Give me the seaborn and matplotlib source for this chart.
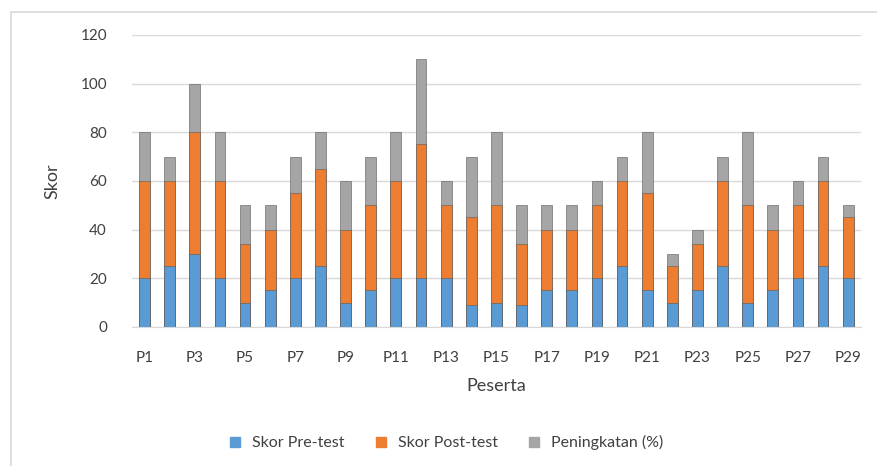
import numpy as np
import pandas as pd
import matplotlib.pyplot as plt
import seaborn as sns
from matplotlib.patches import Rectangle
from matplotlib.lines import Line2D

# ==========================================================
# DATA
# ==========================================================

peserta = ["P%d" % i for i in range(1, 30)]

skor_pre = [20, 25, 30, 20, 10, 15, 20, 25, 10, 15,
            20, 20, 20, 9, 10, 9, 15, 15, 20, 25,
            15, 10, 15, 25, 10, 15, 20, 25, 20]

skor_post = [40, 35, 50, 40, 24, 25, 35, 40, 30, 35,
             40, 55, 30, 36, 40, 25, 25, 25, 30, 35,
             40, 15, 19, 35, 40, 25, 30, 35, 25]

peningkatan = [20, 10, 20, 20, 16, 10, 15, 15, 20, 20,
               20, 35, 10, 25, 30, 16, 10, 10, 10, 10,
               25, 5, 6, 10, 30, 10, 10, 10, 5]

series_names = ["Skor Pre-test", "Skor Post-test", "Peningkatan (%)"]
colors = ["#5B9BD5", "#ED7D31", "#A5A5A5"]

df = pd.DataFrame({
    "Peserta": peserta,
    "pre": skor_pre,
    "post": skor_post,
    "gain": peningkatan,
})
df["top_pre"] = df["pre"]
df["top_post"] = df["pre"] + df["post"]
df["top_gain"] = df["top_post"] + df["gain"]

# ==========================================================
# PLOT
# ==========================================================

sns.set_style("white")
plt.rcParams["font.family"] = ["Lato", "DejaVu Sans"]

fig = plt.figure(figsize=(8.77, 4.66), dpi=100)
ax = fig.add_axes([0.1505, 0.2983, 0.831, 0.6266])

# stacked bars: draw cumulative tops from back to front
for col, c in zip(["top_gain", "top_post", "top_pre"], colors[::-1]):
    sns.barplot(data=df, x="Peserta", y=col, order=peserta, color=c,
                width=0.43, edgecolor="#595959", linewidth=0.4,
                saturation=1, ax=ax, zorder=3)

ax.set_ylim(0, 120)
ax.set_yticks(range(0, 121, 20))
ax.yaxis.grid(True, color="#D9D9D9", linewidth=1)
ax.set_axisbelow(True)
for s in ["top", "right", "left"]:
    ax.spines[s].set_visible(False)
ax.spines["bottom"].set_color("#D9D9D9")

ax.set_xticks(range(len(peserta)))
ax.set_xticklabels([p if i % 2 == 0 else "" for i, p in enumerate(peserta)])
ax.tick_params(axis="both", length=0, labelsize=11, colors="#404040")
ax.tick_params(axis="y", pad=18)
ax.tick_params(axis="x", pad=17)

ax.set_xlabel("Peserta", fontsize=13, color="#404040", labelpad=10)
ax.set_ylabel("Skor", fontsize=13, color="#404040", labelpad=14)

handles = [Line2D([0], [0], marker="s", linestyle="", markersize=6.5,
                  markerfacecolor=c, markeredgecolor=c) for c in colors]
fig.legend(handles, series_names, loc="center", bbox_to_anchor=(0.503, 0.05),
           ncol=3, frameon=False, fontsize=11.5, handletextpad=0.05,
           columnspacing=1.3, labelcolor="#404040")

fig.patches.append(Rectangle((11 / 877, -0.05), 1.0, 1.05 - 12 / 466,
                             transform=fig.transFigure, fill=False,
                             edgecolor="#D9D9D9", linewidth=1.2))

plt.savefig("out.png", dpi=100)
